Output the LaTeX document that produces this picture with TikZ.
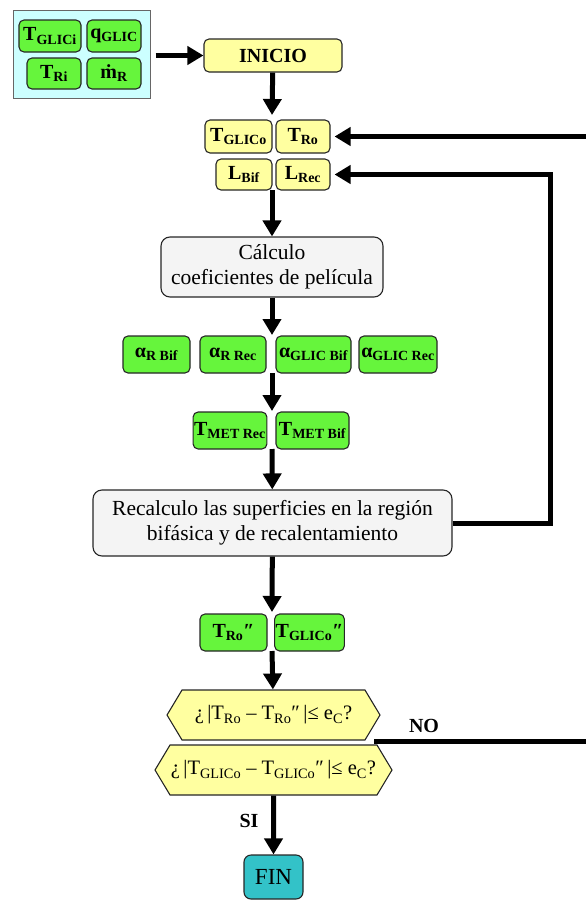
\documentclass[tikz,border=0pt]{standalone}
\usepackage{fontspec}
\setmainfont{Liberation Serif}
\usetikzlibrary{arrows.meta,shapes.symbols}

\definecolor{verde}{RGB}{102,245,60}
\definecolor{amarillo}{RGB}{255,255,160}
\definecolor{celeste}{RGB}{204,255,255}
\definecolor{gris}{RGB}{244,244,244}
\definecolor{turquesa}{RGB}{51,194,200}

\newcommand{\idx}[1]{\textsubscript{#1}}

\begin{document}
\begin{tikzpicture}[x=1pt, y=-1pt,
	caja/.style={draw=black!85, line width=1.1pt, rounded corners=5pt, inner sep=1pt},
	var/.style={caja, fill=verde, font=\fontsize{20}{22}\selectfont\bfseries},
	dato/.style={caja, fill=amarillo, font=\fontsize{20}{22}\selectfont\bfseries},
	proc/.style={caja, fill=gris, rounded corners=9pt, align=center, font=\fontsize{21.5}{25}\selectfont},
	cond/.style={draw=black!85, line width=1.1pt, fill=amarillo, shape=signal, signal to=east and west,
		signal pointer angle=118, inner sep=0pt, font=\fontsize{20.5}{22}\selectfont},
	flecha/.style={line width=5pt, -{Triangle[length=16pt,width=18pt]}},
	etiq/.style={font=\fontsize{20}{22}\selectfont\bfseries}]
	\useasboundingbox (0,0) rectangle (586,900);
	
	% datos de entrada
	\node[draw=black!60, line width=1pt, fill=celeste, minimum width=137pt, minimum height=88pt] (entrada) at (81.5,54) {};
	\node[var, minimum width=62pt, minimum height=32pt] (TGLICi) at (50,36) {T\idx{GLICi}};
	\node[var, minimum width=54pt, minimum height=32pt] (qGLIC) at (114,36) {q\idx{GLIC}};
	\node[var, minimum width=54pt, minimum height=31pt] (TRi) at (54,73.5) {T\idx{Ri}};
	\node[var, minimum width=54pt, minimum height=31pt] (mR) at (114,73.5) {ṁ\idx{R}};
	
	\node[dato, minimum width=138pt, minimum height=33pt] (inicio) at (273,55.5) {INICIO};
	
	% valores supuestos
	\node[dato, minimum width=67pt, minimum height=33pt] (TGLICo) at (238.5,136.5) {T\idx{GLICo}};
	\node[dato, minimum width=54pt, minimum height=33pt] (TRo) at (303,136.5) {T\idx{Ro}};
	\node[dato, minimum width=56pt, minimum height=31pt] (LBif) at (244,174.5) {L\idx{Bif}};
	\node[dato, minimum width=54pt, minimum height=31pt] (LRec) at (303,174.5) {L\idx{Rec}};
	
	\node[proc, minimum width=222pt, minimum height=60pt] (calculo) at (272,267) {Cálculo\\coeficientes de película};
	
	% coeficientes
	\node[var, minimum width=67pt, minimum height=37pt] (aRBif) at (156.5,354.5) {α\idx{R Bif}};
	\node[var, minimum width=66pt, minimum height=37pt] (aRRec) at (233,354.5) {α\idx{R Rec}};
	\node[var, minimum width=75pt, minimum height=37pt] (aGBif) at (313.5,354.5) {α\idx{GLIC Bif}};
	\node[var, minimum width=78pt, minimum height=37pt] (aGRec) at (398,354.5) {α\idx{GLIC Rec}};
	
	\node[var, minimum width=72pt, minimum height=37pt] (TMETRec) at (230,430.5) {T\idx{MET Rec}};
	\node[var, minimum width=73pt, minimum height=37pt] (TMETBif) at (312.5,430.5) {T\idx{MET Bif}};
	
	\node[proc, minimum width=359pt, minimum height=66pt] (recalculo) at (272.5,523) {Recalculo las superficies en la región\\bifásica y de recalentamiento};
	
	\node[var, minimum width=67pt, minimum height=37pt] (TRon) at (233.5,632.5) {T\idx{Ro}″};
	\node[var, minimum width=67pt, minimum height=37pt] (TGLICon) at (309.5,632.5) {T\idx{GLICo}″};
	
	% comprobacion de convergencia
	\node[cond, minimum width=213pt, minimum height=50pt] (cond1) at (273.5,715) {¿\,|T\idx{Ro} – T\idx{Ro}″\,|≤ e\idx{C}?};
	\node[cond, minimum width=237pt, minimum height=50pt] (cond2) at (273.5,770) {¿\,|T\idx{GLICo} – T\idx{GLICo}″\,|≤ e\idx{C}?};
	
	\node[caja, fill=turquesa, minimum width=59pt, minimum height=44pt, rounded corners=7pt, font=\fontsize{23}{24}\selectfont] (fin) at (273.5,877) {FIN};
	
	\coordinate (salida) at (374,741);
	
	% flechas
	\draw[flecha, shorten <=5pt] (entrada.east |- inicio) -- (inicio);
	\draw[flecha] (inicio) -- (272,115);
	\draw[flecha] (272,190) -- (calculo);
	\draw[flecha] (calculo) -- (272,335);
	\draw[flecha] (272,373) -- (272,411);
	\draw[flecha] (272,449) -- (recalculo);
	\draw[flecha] (recalculo) -- (272,612);
	\draw[flecha] (272,651) -- (cond1);
	\draw[flecha] (cond2) -- (fin);
	
	% bucles
	\draw[flecha, shorten >=4pt] (recalculo.east) -- (550,523) |- (LRec.east);
	\draw[flecha, shorten >=4pt] (salida) -- (589,741) |- (TRo.east);
	
	\node[etiq] (no) at (424,726) {NO};
	\node[etiq] (si) at (249,821) {SI};
\end{tikzpicture}
\end{document}
